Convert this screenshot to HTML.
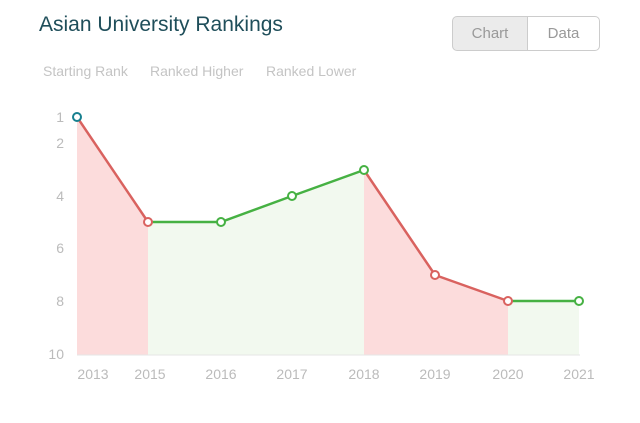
<!DOCTYPE html>
<html><head><style>
body{margin:0;background:#fff;width:640px;height:423px;overflow:hidden;font-family:"Liberation Sans",sans-serif;}
.t{position:absolute;left:39px;top:13px;font-size:21px;color:#1f4e5a;}
.btn{position:absolute;top:16px;height:35px;border:1px solid #ccc;font-size:15px;color:#999;display:flex;align-items:center;justify-content:center;box-sizing:border-box;}
.lg{position:absolute;top:63px;font-size:14px;color:#c4c4c4;}
</style></head><body>
<div class="t">Asian University Rankings</div>
<div class="btn" style="left:452px;width:76px;background:#ebebeb;border-radius:5px 0 0 5px;">Chart</div>
<div class="btn" style="left:527px;width:73px;border-radius:0 5px 5px 0;">Data</div>
<div class="lg" style="left:43px">Starting Rank</div>
<div class="lg" style="left:150px">Ranked Higher</div>
<div class="lg" style="left:266px">Ranked Lower</div>
<svg width="640" height="423" style="position:absolute;left:0;top:0" font-family="Liberation Sans,sans-serif">
<polygon points="77,117 148,222 148,355 77,355" fill="#fcdcdc"/>
<polygon points="148,222 221,222 292,196 364,170 364,355 148,355" fill="#f2f9ef"/>
<polygon points="364,170 435,275 508,301 508,355 364,355" fill="#fcdcdc"/>
<polygon points="508,301 579,301 579,355 508,355" fill="#f2f9ef"/>
<line x1="77" y1="355" x2="580" y2="355" stroke="#e6e6e6"/>
<g fill="#bbb" font-size="14" text-anchor="end">
<text x="64" y="122">1</text><text x="64" y="148">2</text><text x="64" y="201">4</text><text x="64" y="253">6</text><text x="64" y="306">8</text><text x="64" y="359">10</text>
</g>
<g fill="#bbb" font-size="14" text-anchor="middle">
<text x="93" y="379">2013</text><text x="150" y="379">2015</text><text x="221" y="379">2016</text><text x="292" y="379">2017</text><text x="364" y="379">2018</text><text x="435" y="379">2019</text><text x="508" y="379">2020</text><text x="579" y="379">2021</text>
</g>
<g fill="none" stroke-width="2.5">
<polyline points="77,117 148,222" stroke="#d9625f"/>
<polyline points="148,222 221,222 292,196 364,170" stroke="#46b143"/>
<polyline points="364,170 435,275 508,301" stroke="#d9625f"/>
<polyline points="508,301 579,301" stroke="#46b143"/>
</g>
<g fill="#fff" stroke-width="2">
<circle cx="77" cy="117" r="4" stroke="#17808f"/>
<circle cx="148" cy="222" r="4" stroke="#d9625f"/>
<circle cx="221" cy="222" r="4" stroke="#46b143"/>
<circle cx="292" cy="196" r="4" stroke="#46b143"/>
<circle cx="364" cy="170" r="4" stroke="#46b143"/>
<circle cx="435" cy="275" r="4" stroke="#d9625f"/>
<circle cx="508" cy="301" r="4" stroke="#d9625f"/>
<circle cx="579" cy="301" r="4" stroke="#46b143"/>
</g>
</svg>
</body></html>
